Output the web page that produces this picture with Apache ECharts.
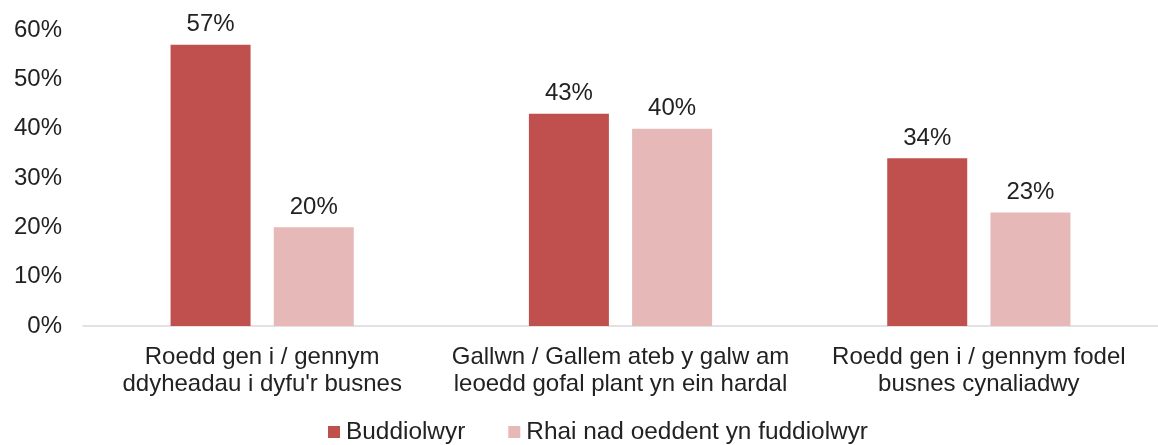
<!DOCTYPE html>
<html><head><meta charset="utf-8">
<script src="https://cdn.jsdelivr.net/npm/echarts@6/dist/echarts.min.js"></script>
<style>html,body{margin:0;padding:0;background:#fff}#c{width:1158px;height:445px}</style>
</head><body><div id="c"></div>
<script>
const categories = ["Roedd gen i / gennym\nddyheadau i dyfu'r busnes", "Gallwn / Gallem ateb y galw am\nleoedd gofal plant yn ein hardal", "Roedd gen i / gennym fodel\nbusnes cynaliadwy"];
const seriesNames = ["Buddiolwyr", "Rhai nad oeddent yn fuddiolwyr"];
const beneficiaries = [57, 43, 34];
const nonBeneficiaries = [20, 40, 23];
const yTicks = [0, 10, 20, 30, 40, 50, 60];

const font = "'Liberation Sans', Arial, sans-serif";
const txt = '#222222';
const chart = echarts.init(document.getElementById('c'), null, {renderer: 'canvas'});
chart.setOption({
  animation: false,
  backgroundColor: '#fff',
  textStyle: {fontFamily: font},
  grid: {left: 83, right: -5, top: 30, bottom: 119, containLabel: false},
  legend: {
    bottom: -4, left: 323, itemWidth: 12, itemHeight: 12, itemGap: 43,
    icon: 'rect',
    textStyle: {fontFamily: font, fontSize: 24.4, color: txt, padding: [0, 0, 0, 1]},
    data: seriesNames
  },
  xAxis: {
    type: 'category', data: categories,
    axisLine: {lineStyle: {color: '#d9d9d9', width: 1.5}},
    axisTick: {show: false},
    axisLabel: {fontFamily: font, fontSize: 24, color: txt, lineHeight: 27, margin: 18, interval: 0}
  },
  yAxis: {
    type: 'value', min: yTicks[0], max: yTicks[yTicks.length - 1], interval: 10,
    axisLine: {show: false}, axisTick: {show: false}, splitLine: {show: false},
    axisLabel: {fontFamily: font, fontSize: 24, color: txt, margin: 21, formatter: v => v + '%'}
  },
  series: [
    {name: seriesNames[0], type: 'bar', data: beneficiaries, barWidth: 80, barGap: '29%',
     itemStyle: {color: '#C0504D'},
     label: {show: true, position: 'top', distance: 8, fontFamily: font, fontSize: 24, color: txt, formatter: p => p.value + '%'}},
    {name: seriesNames[1], type: 'bar', data: nonBeneficiaries, barWidth: 80,
     itemStyle: {color: '#E6B9B8'},
     label: {show: true, position: 'top', distance: 8, fontFamily: font, fontSize: 24, color: txt, formatter: p => p.value + '%'}}
  ]
});
</script></body></html>
